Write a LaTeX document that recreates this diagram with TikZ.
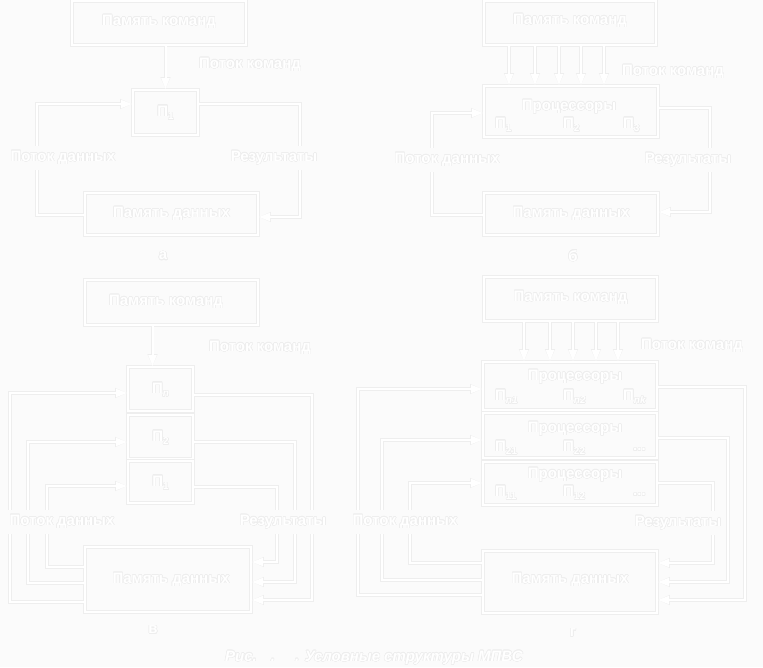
\documentclass[tikz,border=0pt]{standalone}
\usepackage{fontspec}
\setmainfont{Liberation Sans}
\usepackage{contour}
\contourlength{0.5pt}
\usetikzlibrary{arrows.meta}
\colorlet{ink}{white}
\definecolor{bgc}{gray}{0.985}
\definecolor{halo}{gray}{0.935}
\newcommand\sbs[1]{\raisebox{-0.45ex}{\fontsize{10}{10}\selectfont #1}}
\newcommand\halotext[1]{\contour{halo}{#1}}
\begin{document}
\begin{tikzpicture}[x=1pt,y=-1pt,
  box/.style={draw=ink,line width=2pt,inner sep=0pt,preaction={draw=halo,line width=3.2pt}},
  txt/.style={text=ink,font=\bfseries\fontsize{15}{15}\selectfont,inner sep=0pt},
  lbl/.style={txt,fill=bgc,inner sep=5pt},
  arr/.style={draw=ink,line width=2pt,-{Triangle[length=11pt,width=8pt]},
    preaction={draw=halo,line width=3.2pt,-{Triangle[length=11.8pt,width=9.2pt]}}},
  ln/.style={draw=ink,line width=2pt}]
\useasboundingbox[fill=bgc] (0,0) rectangle (763,667);

% ---------------- a ----------------
\node[box,minimum width=174,minimum height=44] (amk) at (159,23) {};
\node[txt] (amkt) at (159,22) {\halotext{Память команд}};
\node[box,minimum width=65,minimum height=45] (ap1) at (165.5,112.5) {};
\node[txt] (ap1t) at (165.5,113) {\halotext{П\sbs{1}}};
\node[box,minimum width=173,minimum height=42] (apd) at (171.5,214) {};
\node[txt] (apdt) at (171.5,214) {\halotext{Память данных}};
\draw[arr] (amk.south -| ap1.north) -- (ap1.north);
\draw[arr] ([yshift=-1pt]apd.west) -| (37,104) -- ([yshift=8.5pt]ap1.west);
\draw[arr] ([yshift=8.5pt]ap1.east) -| (300,217) -- ([yshift=-3pt]apd.east);
\node[lbl] (alk) at (250,65) {\halotext{Поток команд}};
\node[lbl] (ald) at (63,158) {\halotext{Поток данных}};
\node[lbl] (alr) at (274,158) {\halotext{Результаты}};
\node[txt] (acap) at (163,256) {\halotext{а}};

% ---------------- б ----------------
\node[box,minimum width=172,minimum height=44] (bmk) at (570,23) {};
\node[txt] (bmkt) at (570,21) {\halotext{Память команд}};
\node[box,minimum width=174,minimum height=51] (bpr) at (571,111.5) {};
\node[txt] (bprt) at (569,107) {\halotext{Процессоры}};
\node[txt,anchor=west] (bp1) at (495,125) {\halotext{П\sbs{1}}};
\node[txt,anchor=west] (bp2) at (563,125) {\halotext{П\sbs{2}}};
\node[txt,anchor=west] (bp3) at (623,125) {\halotext{П\sbs{3}}};
\node[box,minimum width=174,minimum height=42] (bpd) at (571,214) {};
\node[txt] (bpdt) at (571,214) {\halotext{Память данных}};
\foreach \x in {509,535,559,581,604}
  \draw[arr] ([xshift=\x pt-570pt]bmk.south) -- ([xshift=\x pt-571pt]bpr.north);
\draw[arr] ([yshift=-1pt]bpd.west) -| (432,113) -- ([yshift=-1.5pt]bpr.west);
\draw[arr] ([yshift=3.5pt]bpr.east) -| (710,212) -- ([yshift=2pt]bpd.east);
\node[lbl] (blk) at (673,72) {\halotext{Поток команд}};
\node[lbl] (bld) at (447,160) {\halotext{Поток данных}};
\node[lbl] (blr) at (688,160) {\halotext{Результаты}};
\node[txt] (bcap) at (573,256) {\halotext{б}};

% ---------------- в ----------------
\node[box,minimum width=173,minimum height=45] (cmk) at (171.5,302.5) {};
\node[txt] (cmkt) at (166,302) {\halotext{Память команд}};
\node[box,minimum width=65,minimum height=44] (cpn) at (160.5,389) {};
\node[txt] (cpnt) at (160.5,390) {\halotext{П\sbs{\itshape n}}};
\node[box,minimum width=65,minimum height=44] (cp2) at (160.5,437) {};
\node[txt] (cp2t) at (160.5,438) {\halotext{П\sbs{2}}};
\node[box,minimum width=65,minimum height=42] (cp1) at (160.5,482) {};
\node[txt] (cp1t) at (160.5,483) {\halotext{П\sbs{1}}};
\node[box,minimum width=166,minimum height=65] (cpd) at (168,579.5) {};
\node[txt] (cpdt) at (171,580) {\halotext{Память данных}};
\draw[arr] ([xshift=-8pt]cmk.south -| cpn.north) -- ([xshift=-8pt]cpn.north);
\draw[arr] ([yshift=-22.5pt]cpd.west) -| (10,393) -- ([yshift=-4pt]cpn.west);
\draw[arr] ([yshift=-3.5pt]cpd.west) -| (28,442) -- ([yshift=-5pt]cp2.west);
\draw[arr] ([yshift=12.5pt]cpd.west) -| (47,486) -- ([yshift=-4pt]cp1.west);
\draw[arr] ([yshift=-6pt]cpn.east) -| (312,600) -- ([yshift=-20.5pt]cpd.east);
\draw[arr] ([yshift=-5pt]cp2.east) -| (295,582) -- ([yshift=-2.5pt]cpd.east);
\draw[arr] ([yshift=-5pt]cp1.east) -| (277,562) -- ([yshift=17.5pt]cpd.east);
\node[lbl] (clk) at (260,348) {\halotext{Поток команд}};
\node[lbl] (cld) at (62,522) {\halotext{Поток данных}};
\node[lbl] (clr) at (283,522) {\halotext{Результаты}};
\node[txt] (ccap) at (153,630) {\halotext{в}};

% ---------------- г ----------------
\node[box,minimum width=173,minimum height=44] (dmk) at (570.5,299) {};
\node[txt] (dmkt) at (570.5,298) {\halotext{Память команд}};
\node[box,minimum width=174,minimum height=48] (dpn) at (570,386) {};
\node[box,minimum width=174,minimum height=45] (dp2) at (570,435.5) {};
\node[box,minimum width=174,minimum height=43] (dp1) at (570,483.5) {};
\node[txt] (dpnt) at (575,377) {\halotext{Процессоры}};
\node[txt] (dp2t) at (575,429) {\halotext{Процессоры}};
\node[txt] (dp1t) at (575,475) {\halotext{Процессоры}};
\node[txt,anchor=west] (dpn1) at (495,397) {\halotext{П\sbs{\itshape n1}}};
\node[txt,anchor=west] (dpn2) at (563,397) {\halotext{П\sbs{\itshape n2}}};
\node[txt,anchor=west] (dpnk) at (623,397) {\halotext{П\sbs{\itshape nk}}};
\node[txt,anchor=west] (dp21) at (495,448) {\halotext{П\sbs{21}}};
\node[txt,anchor=west] (dp22) at (563,448) {\halotext{П\sbs{22}}};
\node[txt,anchor=west] (dp2d) at (633,450) {\halotext{...}};
\node[txt,anchor=west] (dp11) at (495,493) {\halotext{П\sbs{11}}};
\node[txt,anchor=west] (dp12) at (563,493) {\halotext{П\sbs{12}}};
\node[txt,anchor=west] (dp1d) at (633,495) {\halotext{...}};
\node[box,minimum width=174,minimum height=62] (dpd) at (570,582) {};
\node[txt] (dpdt) at (570,580) {\halotext{Память данных}};
\foreach \x in {524,550,573,596,618}
  \draw[arr] ([xshift=\x pt-570.5pt]dmk.south) -- ([xshift=\x pt-570pt]dpn.north);
\draw[arr] ([yshift=-13pt]dpd.west) -| (358,389) -- ([yshift=-3pt]dpn.west);
\draw[arr] ([yshift=2pt]dpd.west) -| (382,440) -- ([yshift=-4.5pt]dp2.west);
\draw[arr] ([yshift=19pt]dpd.west) -| (410,483) -- ([yshift=0.5pt]dp1.west);
\draw[arr] ([yshift=-1pt]dpn.east) -| (745,600) -- ([yshift=-18pt]dpd.east);
\draw[arr] ([yshift=-2.5pt]dp2.east) -| (728,582) -- ([yshift=0pt]dpd.east);
\draw[arr] ([yshift=0.5pt]dp1.east) -| (713,563) -- ([yshift=19pt]dpd.east);
\node[lbl] (dlk) at (692,346) {\halotext{Поток команд}};
\node[lbl] (dld) at (405,522) {\halotext{Поток данных}};
\node[lbl] (dlr) at (678,523) {\halotext{Результаты}};
\node[txt] (dcap) at (573,633) {\halotext{г}};

% caption
\node[txt,font=\bfseries\itshape\fontsize{15}{15}\selectfont,anchor=west] (cap) at (225,658)
  {\halotext{Рис.\hspace{14pt}.\hspace{20pt}. Условные структуры МПВС}};
\end{tikzpicture}
\end{document}
